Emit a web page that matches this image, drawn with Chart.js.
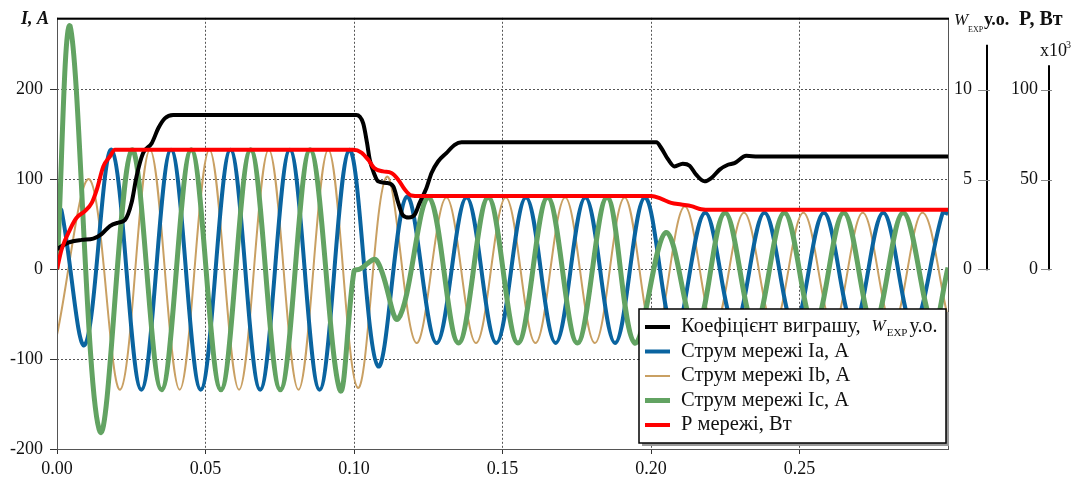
<!DOCTYPE html>
<html>
<head>
<meta charset="utf-8">
<script src="https://cdn.jsdelivr.net/npm/chart.js@4.4.0/dist/chart.umd.min.js"></script>
<style>
  html, body { margin: 0; padding: 0; background: #fff; }
  canvas { display: block; }
</style>
</head>
<body>
<canvas id="chart" width="1078" height="478"></canvas>
<script>
// tick labels
var xTicks = [0, 0.05, 0.10, 0.15, 0.20, 0.25];
var iTicks = [-200, -100, 0, 100, 200];
var wTicks = [0, 5, 10];
var pTicks = [0, 50, 100];

// series names
var names = ['Коефіцієнт виграшу,', 'Струм мережі Ia, A', 'Струм мережі Ib, A', 'Струм мережі Ic, A', 'P мережі, Вт'];

// Ia, A  (peaks / troughs)
var iaT = [0, 0.0015, 0.0094, 0.0184, 0.0284, 0.0384, 0.0484, 0.0584, 0.0684, 0.0784, 0.0884, 0.0984, 0.1081, 0.1178, 0.1278, 0.1379, 0.1479, 0.1579, 0.1679, 0.1779, 0.1879, 0.1979, 0.2079, 0.2182, 0.2282, 0.2382, 0.2482, 0.2582, 0.2682, 0.2782, 0.2882, 0.2982, 0.3];
var iaV = [67, 66, -84, 133, -134, 133, -134, 133, -134, 133, -134, 133, -108, 81, -82, 80, -82, 80, -82, 80, -82, 80, -72, 63, -63, 63, -63, 63, -63, 63, -63, 63, 62];

// Ib, A
var ibT = [0, 0.011, 0.0213, 0.0313, 0.0413, 0.0513, 0.0613, 0.0713, 0.0813, 0.0913, 0.1013, 0.111, 0.121, 0.1311, 0.1411, 0.1511, 0.1611, 0.1711, 0.1811, 0.1911, 0.2011, 0.2113, 0.2213, 0.2313, 0.2413, 0.2513, 0.2613, 0.2713, 0.2813, 0.2913, 0.3];
var ibV = [-73, 100, -134, 133, -134, 133, -134, 133, -134, 133, -132, 103, -82, 80, -82, 80, -82, 80, -82, 80, -78, 70, -65, 63, -63, 63, -63, 63, -63, 63, -54];

// Ic, A
var icT = [0, 0.0044, 0.0145, 0.0252, 0.0352, 0.0452, 0.0552, 0.0652, 0.0752, 0.0852, 0.0952, 0.1000, 0.1018, 0.1076, 0.1149, 0.1252, 0.1352, 0.1452, 0.1552, 0.1652, 0.1752, 0.1852, 0.1945, 0.2051, 0.2151, 0.2249, 0.2349, 0.2449, 0.2549, 0.2649, 0.2749, 0.2849, 0.2949, 0.3];
var icV = [0, 271, -181, 133, -134, 133, -134, 133, -134, 133, -134, -2, 0, 10, -55, 80, -82, 80, -82, 80, -82, 80, -82, 41, -68, 63, -63, 63, -63, 63, -63, 63, -63, 2];

// W_EXP, у.о.
var wT = [0, 0.0038, 0.0083, 0.0122, 0.015, 0.0178, 0.0206, 0.0229, 0.0251, 0.0268, 0.029, 0.0319, 0.0341, 0.0363, 0.0391, 0.1008, 0.1031, 0.1044, 0.1053, 0.1067, 0.1081, 0.1109, 0.1132, 0.1149, 0.1165, 0.1185, 0.1205, 0.1221, 0.1244, 0.1261, 0.1283, 0.1311, 0.1339, 0.1362, 0.2018, 0.2035, 0.2057, 0.2079, 0.2107, 0.213, 0.2152, 0.218, 0.2203, 0.2231, 0.2259, 0.2281, 0.2321, 0.236, 0.3];
var wV = [1.13, 1.49, 1.64, 1.71, 1.96, 2.41, 2.6, 2.75, 3.7, 5.18, 6.47, 7.02, 7.85, 8.4, 8.59, 8.59, 8.12, 7.02, 6.1, 5.36, 4.9, 4.81, 4.62, 3.7, 3.0, 2.88, 3.06, 3.7, 4.53, 5.36, 6.0, 6.47, 6.93, 7.07, 7.07, 6.74, 6.13, 5.73, 5.88, 5.77, 5.27, 4.9, 5.08, 5.55, 5.82, 5.91, 6.32, 6.28, 6.28];

// P, Вт x10^3
var pT = [0, 0.0016, 0.0044, 0.0066, 0.0094, 0.0117, 0.0134, 0.0156, 0.0178, 0.0195, 0.0997, 0.1025, 0.1048, 0.1068, 0.1098, 0.1126, 0.1149, 0.1171, 0.1193, 0.1222, 0.2001, 0.2035, 0.2068, 0.2102, 0.2136, 0.2169, 0.2203, 0.3];
var pV = [0.2, 11.3, 22.3, 28.7, 32.4, 37, 44.4, 57.3, 62.8, 66.5, 66.5, 65, 61, 56.4, 54.5, 53.6, 49.9, 44.4, 41.1, 40.8, 40.8, 39.2, 37, 36.1, 35.2, 33.4, 33.1, 33.1];

var FONT = '"Liberation Serif", "Times New Roman", serif';
Chart.defaults.font.family = FONT;
Chart.defaults.color = '#111';

function series(name, t, v, color, width, axis, wave) {
  return {
    label: name,
    data: t.map(function (x, k) { return { x: x, y: v[k] }; }),
    borderColor: color,
    backgroundColor: color,
    borderWidth: width,
    pointRadius: 0,
    fill: false,
    yAxisID: axis,
    tension: wave ? 0.36 : 0.2,
    cubicInterpolationMode: wave ? 'default' : 'monotone'
  };
}

var colors = { w: '#000000', a: '#0a64a0', b: '#c9a063', c: '#62a362', p: '#ff0000' };
var widths = { w: 4, a: 4, b: 2, c: 5, p: 4 };

// first dataset is drawn on top
var datasets = [
  series(names[4], pT, pV, colors.p, widths.p, 'yP', false),
  series(names[0], wT, wV, colors.w, widths.w, 'yW', false),
  series(names[3], icT, icV, colors.c, widths.c, 'yI', true),
  series(names[1], iaT, iaV, colors.a, widths.a, 'yI', true),
  series(names[2], ibT, ibV, colors.b, widths.b, 'yI', true)
];

function fixTicks(list) {
  return function (s) { s.ticks = list.map(function (v) { return { value: v }; }); };
}

function sideAxis(ctx, s, ticks, topVal, off, t0, t1) {
  var x = s.right + off;
  ctx.strokeStyle = '#000';
  ctx.lineWidth = 2;
  ctx.beginPath();
  ctx.moveTo(x, s.getPixelForValue(0) + 1);
  ctx.lineTo(x, s.getPixelForValue(topVal));
  ctx.stroke();
  ctx.strokeStyle = '#888';
  ctx.lineWidth = 1;
  ticks.forEach(function (v) {
    var y = Math.round(s.getPixelForValue(v)) + 0.5;
    ctx.beginPath();
    ctx.moveTo(s.right + t0, y);
    ctx.lineTo(s.right + t1, y);
    ctx.stroke();
  });
}

var extras = {
  id: 'extras',
  afterDraw: function (chart) {
    var ctx = chart.ctx, a = chart.chartArea;
    ctx.save();

    // frame
    ctx.strokeStyle = '#555';
    ctx.lineWidth = 1;
    ctx.strokeRect(a.left + 0.5, a.top + 0.5, a.right - a.left, a.bottom - a.top);
    ctx.strokeStyle = '#000';
    ctx.lineWidth = 2;
    ctx.beginPath();
    ctx.moveTo(a.left, a.top + 1);
    ctx.lineTo(a.right + 1, a.top + 1);
    ctx.stroke();

    // right axes lines
    sideAxis(ctx, chart.scales.yW, wTicks, 12.5, 15, 6, 18);
    sideAxis(ctx, chart.scales.yP, pTicks, 113.6, 11, 3, 14);

    // axis titles
    ctx.fillStyle = '#111';
    ctx.textAlign = 'left';
    ctx.textBaseline = 'alphabetic';
    ctx.font = 'italic bold 18px ' + FONT;
    ctx.fillText('I, A', 21, 24);
    ctx.font = 'italic 17px ' + FONT;
    ctx.fillText('W', 954, 25);
    ctx.font = '8px ' + FONT;
    ctx.fillText('EXP', 968, 32);
    ctx.font = 'bold 18px ' + FONT;
    ctx.fillText('у.о.', 984, 25);
    ctx.font = 'bold 20px ' + FONT;
    ctx.fillText('P, Вт', 1019, 25);
    ctx.font = '18px ' + FONT;
    ctx.fillText('x10', 1040, 56);
    ctx.font = '10px ' + FONT;
    ctx.fillText('3', 1066, 48);

    // legend
    var bx = a.right - 309, by = a.bottom - 140, bw = 307, bh = 134;
    ctx.fillStyle = '#999';
    ctx.fillRect(bx + 3, by + 3, bw, bh);
    ctx.fillStyle = '#fff';
    ctx.fillRect(bx, by, bw, bh);
    ctx.strokeStyle = '#000';
    ctx.lineWidth = 1.5;
    ctx.strokeRect(bx, by, bw, bh);

    var rows = [
      [names[0], colors.w, widths.w],
      [names[1], colors.a, widths.a],
      [names[2], colors.b, widths.b],
      [names[3], colors.c, widths.c],
      [names[4], colors.p, widths.p]
    ];
    ctx.textBaseline = 'middle';
    rows.forEach(function (r, k) {
      var y = by + 18 + k * 24.5;
      ctx.strokeStyle = r[1];
      ctx.lineWidth = r[2];
      ctx.beginPath();
      ctx.moveTo(bx + 6, y);
      ctx.lineTo(bx + 31, y);
      ctx.stroke();
      ctx.fillStyle = '#111';
      ctx.font = '20.5px ' + FONT;
      ctx.fillText(r[0], bx + 42, y);
      if (k === 0) {
        var x = bx + 42 + ctx.measureText(r[0]).width + 11;
        ctx.font = 'italic 17px ' + FONT;
        ctx.fillText('W', x, y);
        x += ctx.measureText('W').width + 1;
        ctx.font = '11px ' + FONT;
        ctx.fillText('EXP', x, y + 6);
        x += ctx.measureText('EXP').width + 2;
        ctx.font = '20px ' + FONT;
        ctx.fillText('у.о.', x, y);
      }
    });
    ctx.restore();
  }
};

var tickFont = { family: FONT, size: 18 };

new Chart(document.getElementById('chart'), {
  type: 'line',
  data: { datasets: datasets },
  options: {
    responsive: false,
    animation: false,
    events: [],
    layout: { padding: { top: 14, right: 40, left: 0, bottom: 0 } },
    plugins: { legend: { display: false }, tooltip: { enabled: false } },
    scales: {
      x: {
        type: 'linear',
        min: 0,
        max: 0.3,
        afterBuildTicks: fixTicks(xTicks),
        afterFit: function (s) { s.height = 29; },
        ticks: { font: tickFont, color: '#111', padding: 4, maxRotation: 0,
                 callback: function (v) { return v.toFixed(2); } },
        grid: { color: '#555', lineWidth: 1, tickLength: 5, tickColor: '#333', tickBorderDash: [] },
        border: { display: false, dash: [2, 2] }
      },
      yI: {
        type: 'linear',
        position: 'left',
        min: -200,
        max: 280,
        afterBuildTicks: fixTicks(iTicks),
        afterFit: function (s) { s.width = 57; },
        ticks: { font: tickFont, color: '#111', padding: 7 },
        grid: { color: '#555', lineWidth: 1, tickLength: 7, tickColor: '#333', tickBorderDash: [] },
        border: { display: false, dash: [2, 2] }
      },
      yW: {
        type: 'linear',
        position: 'right',
        weight: 0,
        min: -10,
        max: 14,
        afterBuildTicks: fixTicks(wTicks),
        afterFit: function (s) { s.width = 24; },
        ticks: { font: tickFont, color: '#111', padding: 0, crossAlign: 'far' },
        grid: { display: false },
        border: { display: false }
      },
      yP: {
        type: 'linear',
        position: 'right',
        weight: 1,
        min: -100,
        max: 140,
        afterBuildTicks: fixTicks(pTicks),
        afterFit: function (s) { s.width = 66; },
        ticks: { font: tickFont, color: '#111', padding: 0, crossAlign: 'far' },
        grid: { display: false },
        border: { display: false }
      }
    }
  },
  plugins: [extras]
});
</script>
</body>
</html>
